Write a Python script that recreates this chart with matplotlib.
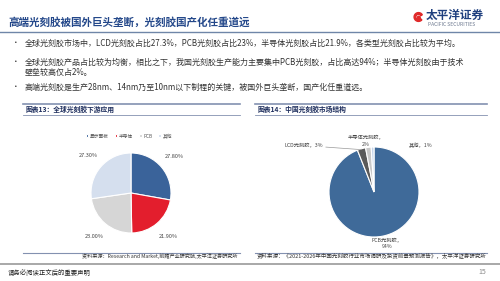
import numpy as np
import matplotlib
matplotlib.use("Agg")
import matplotlib.pyplot as plt
from matplotlib.patches import Wedge, Circle

plt.rcParams["font.family"] = ["Noto Sans CJK SC", "DejaVu Sans"]

# chart data
global_labels = ["显示面板", "半导体", "PCB", "其他"]
global_shares = [27.8, 21.9, 23.0, 27.3]
global_colors = ["#3A639A", "#E31E2D", "#D6D6D6", "#D5DFEE"]

china_labels = ["PCB光刻胶", "LCD光刻胶", "半导体光刻胶", "其他"]
china_shares = [94, 3, 2, 1]
china_colors = ["#3F6A99", "#5A5A5A", "#C8C8C8", "#C8D7EB"]

title = "高端光刻胶被国外巨头垄断，光刻胶国产化任重道远"
bullets = [
    ["全球光刻胶市场中，LCD光刻胶占比27.3%，PCB光刻胶占比23%，半导体光刻胶占比21.9%，各类型光刻胶占比较为平均。"],
    ["全球光刻胶产品占比较为均衡，相比之下，我国光刻胶生产能力主要集中PCB光刻胶，占比高达94%；半导体光刻胶由于技术",
     "壁垒较高仅占2%。"],
    ["高端光刻胶是生产28nm、14nm乃至10nm以下制程的关键，被国外巨头垄断，国产化任重道远。"],
]

W, H = 500, 281
fig = plt.figure(figsize=(W / 100, H / 100), dpi=100)
fig.patch.set_facecolor("white")

# overlay in pixel coordinates for the slide furniture
bg = fig.add_axes([0, 0, 1, 1])
bg.set_xlim(0, W)
bg.set_ylim(H, 0)
bg.axis("off")

navy = "#1E3F7E"
bg.text(8, 22, title, fontsize=7.6, fontweight="bold", color="#24488A", va="center")
bg.plot([0, W], [31.5, 31.5], color="#6F86A8", lw=1.0)

# logo
bg.add_patch(Wedge((418.5, 17), 4.4, 40, 330, width=1.7, color="#E02A2A"))
bg.add_patch(Circle((418.8, 17.6), 1.4, color="#E02A2A"))
bg.text(426, 15.5, "太平洋证券", fontsize=8.4, fontweight="bold", color=navy, va="center")
bg.text(427.5, 25, "PACIFIC SECURITIES", fontsize=3.6, color="#6E7A90", va="center")

# bullets
ys = [43, 62, 87]
for y, lines in zip(ys, bullets):
    bg.text(12, y, "•", fontsize=5.5, color="#333333", va="center")
    for k, line in enumerate(lines):
        bg.text(25, y + k * 10, line, fontsize=5.75, color="#333333", va="center")

# panel frames
panel_col = "#8391B0"
for x0, x1, name in [(23, 240, "图表13：全球光刻胶下游应用"), (255, 487, "图表14：中国光刻胶市场结构")]:
    bg.plot([x0, x1], [103.5, 103.5], color=panel_col, lw=1.2)
    bg.plot([x0, x1], [115, 115], color=panel_col, lw=0.6)
    bg.plot([x0, x1], [252.5, 252.5], color=panel_col, lw=0.8)
    bg.text(x0 + 3, 109.5, name, fontsize=4.9, fontweight="bold", color="#1F2F5E", va="center")

bg.text(237, 256.5, "资料来源：Research and Market,前瞻产业研究院,太平洋证券研究所",
        fontsize=3.7, color="#333333", va="center", ha="right")
bg.text(257, 256.5, "资料来源：《2021-2026年中国光刻胶行业市场调研及投资前景预测报告》，太平洋证券研究所",
        fontsize=3.95, color="#333333", va="center")

# footer
bg.plot([0, W], [263.5, 263.5], color="#A8A8A8", lw=1.4)
bg.text(8, 273, "请务必阅读正文后的重要声明", fontsize=4.6, color="#222222", va="center")
bg.text(486, 272.5, "15", fontsize=5, color="#888888", va="center", ha="right")


def pie_axes(cx, cy, r, lim):
    half = r * lim
    ax = fig.add_axes([(cx - half) / W, 1 - (cy + half) / H, 2 * half / W, 2 * half / H])
    ax.set_xlim(-lim, lim)
    ax.set_ylim(-lim, lim)
    ax.axis("off")
    return ax


# left pie
ax1 = pie_axes(131, 193, 40, 1.5)
wedges, _, _ = ax1.pie(global_shares, colors=global_colors, startangle=90, counterclock=False,
                       autopct="%.2f%%", pctdistance=1.42,
                       wedgeprops=dict(edgecolor="white", linewidth=0.8),
                       textprops=dict(fontsize=4, color="#444444"))
ax1.set_xlim(-1.5, 1.5)
ax1.set_ylim(-1.5, 1.5)
fig.legend(wedges, global_labels, loc="center", bbox_to_anchor=(129 / W, 1 - 136 / H), ncol=4,
           frameon=False, fontsize=3.4, handlelength=0.5, handleheight=0.5, handletextpad=0.4,
           columnspacing=1.2, labelcolor="#555555")

# right pie
r2 = 45
ax2 = pie_axes(374, 192, r2, 1.6)
ax2.pie(china_shares, colors=china_colors, startangle=90, counterclock=False,
        wedgeprops=dict(edgecolor="white", linewidth=0.8))
ax2.set_xlim(-1.6, 1.6)
ax2.set_ylim(-1.6, 1.6)


def px(x, y):
    return (x - 374) / r2, -(y - 192) / r2


lab = dict(fontsize=3.8, color="#444444")
ax2.text(*px(387, 243.5), f"{china_labels[0]}，\n{china_shares[0]}%", ha="center", va="center",
         linespacing=1.3, **lab)
mid = np.deg2rad(90 - (china_shares[0] + china_shares[1] / 2) * 3.6)
ax2.annotate(f"{china_labels[1]}，{china_shares[1]}%", xy=(np.cos(mid) * 0.98, np.sin(mid) * 0.98),
             xytext=px(323, 145.5), ha="right", va="center",
             arrowprops=dict(arrowstyle="-", color="#999999", lw=0.5, shrinkA=0, shrinkB=0), **lab)
ax2.text(*px(366, 141), f"{china_labels[2]}，\n{china_shares[2]}%", ha="center", va="center",
         linespacing=1.3, **lab)
ax2.text(*px(409, 145), f"{china_labels[3]}，{china_shares[3]}%", ha="left", va="center", **lab)

fig.savefig("out.png", dpi=100)
